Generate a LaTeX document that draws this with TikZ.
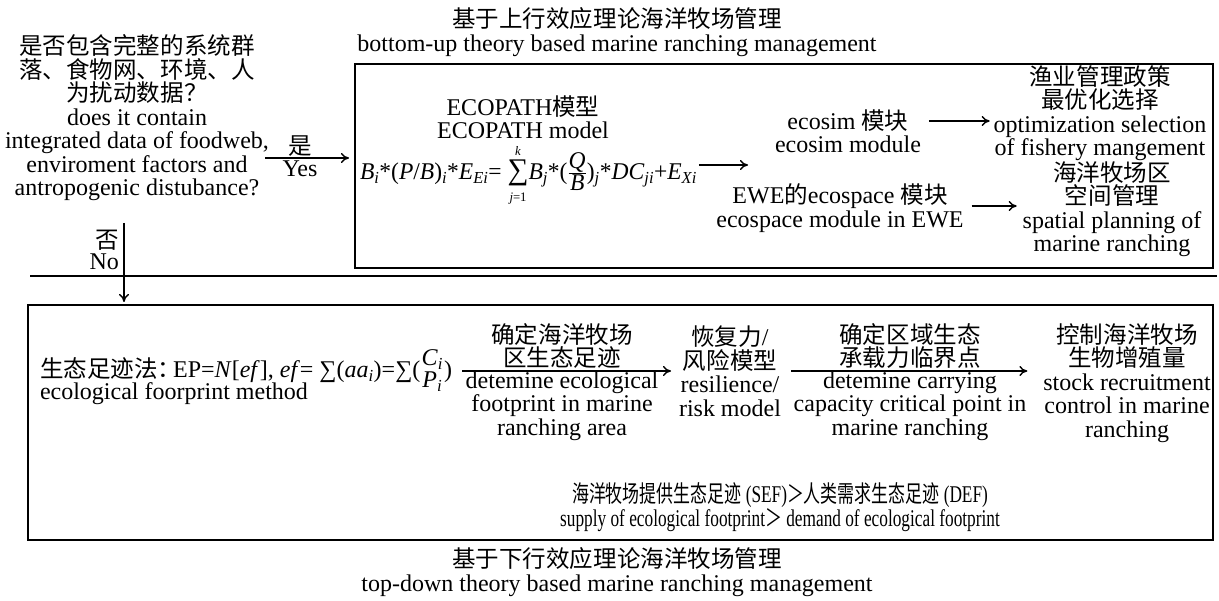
\documentclass[tikz,border=0pt]{standalone}
\usepackage{amsmath}
\usepackage{graphicx}
\usepackage{fontspec}
\setmainfont{Liberation Serif}
\newfontfamily\zh[Scale=0.98]{Noto Sans CJK SC}
\usetikzlibrary{arrows.meta}
\newcommand\sbi[1]{\textsubscript{\itshape #1}}
\newcommand\limtxt[1]{\mbox{\fontsize{13}{13}\selectfont #1}}
\newcommand\bigsum[2]{$\mathop{\mbox{\scalebox{1.25}{∑}}}\limits_{\limtxt{#1}}^{\limtxt{#2}}$}
\tikzset{
  txt/.style={inner sep=0pt, outer sep=0pt, align=center, font=\fontsize{24}{23.5}\selectfont},
  frame/.style={draw, line width=1.6pt, inner sep=0pt, outer sep=0pt},
  arr/.style={-{To[length=8pt,width=10pt]}, line width=1.4pt},
  ln/.style={line width=1.4pt},
}
\begin{document}
\begin{tikzpicture}[x=1pt,y=-1pt]
\useasboundingbox[fill=white] (0,0) rectangle (1219,601);

% titles
\node[txt] (ttop) at (617,32) {{\zh 基于上行效应理论海洋牧场管理}\\bottom-up theory based marine ranching management};
\node[txt] (tbot) at (617,572) {{\zh 基于下行效应理论海洋牧场管理}\\top-down theory based marine ranching management};

% frames
\node[frame, minimum width=858pt, minimum height=204pt] (boxT) at (784,166) {};
\node[frame, minimum width=1185pt, minimum height=235pt] (boxB) at (620.5,422.5) {};

% question
\node[txt] (q) at (137,118) {{\zh 是否包含完整的系统群}\\{\zh 落、食物网、环境、人}\\{\zh 为扰动数据？}\\does it contain\\integrated data of foodweb,\\enviroment factors and\\antropogenic distubance?};

% yes
\coordinate (yesA) at (265,158);
\draw[arr] (yesA) -- ([xshift=-6pt]boxT.west |- yesA);
\node[txt] (yes1) at (300,146) {{\zh 是}};
\node[txt] (yes2) at (300,169) {Yes};

% separator
\coordinate (sepL) at (30,276);
\coordinate (sepR) at (1217,276);
\draw[ln] (sepL) -- (sepR);

% no
\coordinate (noA) at (124,223);
\draw[arr] (noA) -- ([yshift=3pt]boxB.north -| noA);
\node[txt, anchor=east] (no1) at (119,240) {{\zh 否}};
\node[txt, anchor=east] (no2) at (119,262) {No};

% top box content
\node[txt] (eco) at (523,117) {ECOPATH{\zh 模型}\\ECOPATH model};
\node[txt, anchor=base west] (eq) at (360,180) {\scalebox{0.98}[1]{\textit{B}\sbi{i}*(\textit{P}/\textit{B})\sbi{i}*\textit{E}\sbi{Ei}= \bigsum{\textit{j}=1}{\textit{k}}\textit{B}\sbi{j}*($\genfrac{}{}{0.6pt}{1}{\mbox{\textit{Q}}}{\mbox{\textit{B}}}$)\sbi{j}*\textit{DC}\sbi{ji}+\textit{E}\sbi{Xi}}};
\coordinate (a0) at (0,165);
\draw[arr] ([xshift=2pt]eq.east |- a0) -- (748,165) coordinate (eqE);

\node[txt] (sim) at (848,131) {ecosim {\zh 模块}\\ecosim module};
\node[txt] (opt) at (1100,113) {{\zh 渔业管理政策}\\{\zh 最优化选择}\\optimization selection\\of fishery mangement};
\coordinate (a1) at (0,121);
\draw[arr] ([xshift=8pt]sim.east |- a1) -- ([xshift=-4pt]opt.west |- a1);

\node[txt] (spc) at (840,208) {EWE{\zh 的}ecospace {\zh 模块}\\ecospace module in EWE};
\node[txt] (spt) at (1112,209) {{\zh 海洋牧场区}\\{\zh 空间管理}\\spatial planning of\\marine ranching};
\coordinate (a2) at (0,206);
\draw[arr] ([xshift=8pt]spc.east |- a2) -- ([xshift=-6pt]spt.west |- a2);

% bottom box content
\node[txt, anchor=base west] (ef) at (40,378) {{\zh 生态足迹法：}\hspace{-8pt}EP=\textit{N}[\textit{ef}], \textit{ef}= ∑(\textit{aa}\sbi{i})=∑($\genfrac{}{}{0pt}{1}{\mbox{\textit{C}\sbi{i}}}{\mbox{\textit{P}\sbi{i}}}$)};
\node[txt, anchor=base west] (efen) at (40,400) {ecological foorprint method};
\node[txt] (s1a) at (562,346) {{\zh 确定海洋牧场}\\{\zh 区生态足迹}};
\node[txt] (s1b) at (562,406) {detemine ecological\\footprint in marine\\ranching area};
\node[txt] (s2) at (730,371) {{\zh 恢复力}/\\{\zh 风险模型}\\resilience/\\risk model};
\node[txt] (s3a) at (910,346) {{\zh 确定区域生态}\\{\zh 承载力临界点}};
\node[txt] (s3b) at (910,406) {detemine carrying\\capacity critical point in\\marine ranching};
\node[txt] (s4) at (1127,383) {{\zh 控制海洋牧场}\\{\zh 生物增殖量}\\stock recruitment\\control in marine\\ranching};
\coordinate (a3) at (0,371);
\draw[arr] ([xshift=10pt]ef.east |- a3) -- ([xshift=-8pt]s2.west |- a3);
\draw[arr] ([xshift=10pt]s2.east |- a3) -- ([xshift=-16pt]s4.west |- a3);

\node[txt] (sef) at (780,507) {\scalebox{0.72}[1]{{\zh 海洋牧场提供生态足迹} (SEF){\zh ＞人类需求生态足迹} (DEF)}\\\scalebox{0.72}[1]{supply of ecological footprint{\zh ＞} demand of ecological footprint}};
\end{tikzpicture}
\end{document}
